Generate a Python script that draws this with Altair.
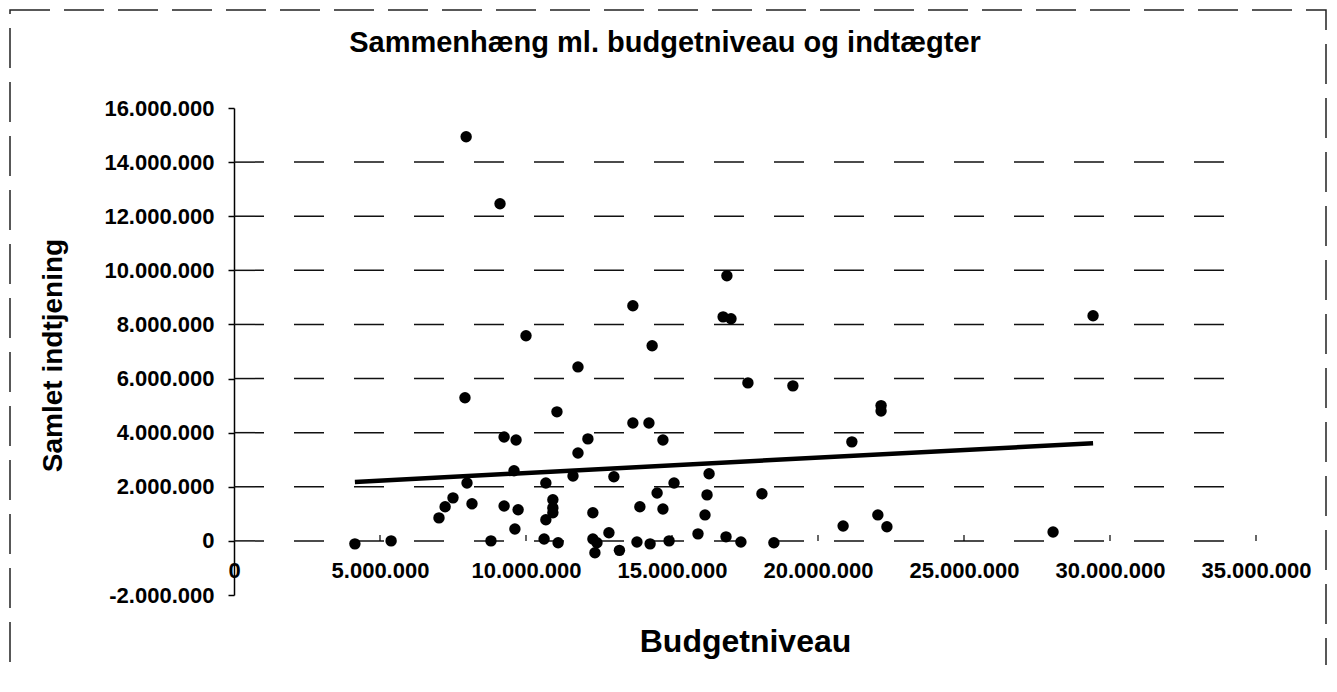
import altair as alt
import pandas as pd

title_text = "Sammenhæng ml. budgetniveau og indtægter"
x_title = "Budgetniveau"
y_title = "Samlet indtjening"

# budget level (kr) and total income (kr) (millions)
budget_m = [7.95, 9.11, 16.88, 13.66, 16.75, 17.02, 29.42, 10.00, 14.32, 11.78,
            17.60, 19.14, 7.91, 11.06, 22.16, 22.16, 13.66, 14.21, 9.25, 9.66,
            12.12, 14.69, 21.16, 11.78, 9.59, 16.27, 11.61, 13.01, 7.98, 10.68,
            15.07, 14.49, 18.08, 16.20, 7.50, 10.92, 8.15, 9.25, 7.23, 13.90,
            10.92, 9.73, 14.69, 10.92, 12.29, 16.13, 22.05, 7.02, 10.68, 20.86,
            22.36, 9.62, 28.05, 12.84, 15.89, 16.85, 10.62, 12.29, 4.14, 5.38,
            8.80, 11.10, 12.43, 13.80, 14.90, 17.36, 18.49, 14.25, 13.20, 12.36]
income_m = [14.94, 12.46, 9.80, 8.69, 8.28, 8.21, 8.32, 7.58, 7.21, 6.43,
            5.84, 5.73, 5.29, 4.77, 5.00, 4.80, 4.36, 4.36, 3.84, 3.73,
            3.77, 3.73, 3.66, 3.25, 2.59, 2.48, 2.40, 2.37, 2.14, 2.14,
            2.14, 1.77, 1.74, 1.70, 1.59, 1.52, 1.37, 1.29, 1.26, 1.26,
            1.22, 1.15, 1.18, 1.04, 1.04, 0.96, 0.96, 0.85, 0.78, 0.55,
            0.52, 0.44, 0.33, 0.30, 0.26, 0.15, 0.07, 0.07, -0.11, 0.00,
            0.00, -0.07, -0.07, -0.04, 0.00, -0.04, -0.07, -0.11, -0.35, -0.44]

# linear trend line endpoints (kr)
trend_x = [4140000, 29420000]
trend_y = [2180000, 3610000]

grid_levels = [0, 2000000, 4000000, 6000000, 8000000, 10000000, 12000000, 14000000]
x_ticks = [0, 5000000, 10000000, 15000000, 20000000, 25000000, 30000000, 35000000]
y_ticks = [-2000000, 0, 2000000, 4000000, 6000000, 8000000, 10000000,
           12000000, 14000000, 16000000]

df = pd.DataFrame({"budget": [v * 1e6 for v in budget_m],
                   "income": [v * 1e6 for v in income_m]})
trend_df = pd.DataFrame({"budget": trend_x, "income": trend_y})
grid_df = pd.DataFrame({"income": grid_levels})
tick_df = pd.DataFrame({"budget": x_ticks[1:]})
frame_df = pd.DataFrame({"k": [0]})

FONT = "Liberation Sans"
W, H = 1022, 487

lab_expr = ("datum.value == 0 ? '0' : (datum.value < 0 ? '-' : '') + "
            "format(abs(datum.value) / 1000000, 'd') + '.000.000'")

x_scale = alt.Scale(domain=[0, 35000000], nice=False, zero=False)
y_scale = alt.Scale(domain=[-2000000, 16000000], nice=False, zero=False)

x_axis = alt.Axis(values=x_ticks, labelExpr=lab_expr, title=x_title, offset=-54,
                  domain=False, ticks=False, grid=False, labelFont=FONT,
                  labelFontSize=22, labelFontWeight="bold", labelColor="black",
                  labelPadding=19, labelOverlap=False, labelFlush=False,
                  labelBound=False, titleFont=FONT,
                  titleFontSize=32, titleFontWeight="bold", titleColor="black",
                  titleY=110, titleBaseline="alphabetic")
y_axis = alt.Axis(values=y_ticks, labelExpr=lab_expr, title=y_title,
                  domain=True, domainColor="black", domainWidth=1.5,
                  ticks=True, tickColor="black", tickSize=6, tickWidth=1.5,
                  grid=False, labelFont=FONT, labelFontSize=22,
                  labelFontWeight="bold", labelColor="black", labelPadding=14,
                  labelOverlap=False, labelFlush=False, titleFont=FONT,
                  titleFontSize=28, titleFontWeight="bold", titleColor="black",
                  titleX=-181, titleY=247, titleAngle=-90,
                  titleBaseline="middle", titleAlign="center")

x_enc = alt.X("budget:Q", scale=x_scale, axis=x_axis)
y_enc = alt.Y("income:Q", scale=y_scale, axis=y_axis)

frame = alt.Chart(frame_df).mark_rect(
    fillOpacity=0, stroke="#222", strokeWidth=1.5, strokeDash=[40, 14]
).encode(x=alt.value(-224), x2=alt.value(1092), y=alt.value(-98), y2=alt.value(640))

grid = alt.Chart(grid_df).mark_rule(
    color="#111", strokeWidth=1.5, strokeDash=[30, 30]
).encode(y=y_enc, x=alt.value(0), x2=alt.value(W - 2))

ticks = alt.Chart(tick_df).mark_rule(color="black", strokeWidth=1.2).encode(
    x=x_enc, y=alt.datum(0), y2=alt.datum(220000))

trend = alt.Chart(trend_df).mark_line(color="black", strokeWidth=4.5).encode(
    x=x_enc, y=y_enc)

points = alt.Chart(df).mark_circle(size=130, color="black", opacity=1).encode(
    x=x_enc, y=y_enc)

chart = alt.layer(frame, grid, ticks, trend, points).properties(
    width=W, height=H,
    background="white",
    title=alt.TitleParams(title_text, font=FONT, fontSize=29, fontWeight="bold",
                          color="black", anchor="middle", dx=-80, dy=72,
                          offset=0, baseline="alphabetic"),
    autosize=alt.AutoSizeParams(type="none"),
    padding={"left": 226, "top": 100, "right": 72, "bottom": 70},
).configure_view(stroke=None)

chart.save("out.html", embed_options={"renderer": "svg", "actions": False})
